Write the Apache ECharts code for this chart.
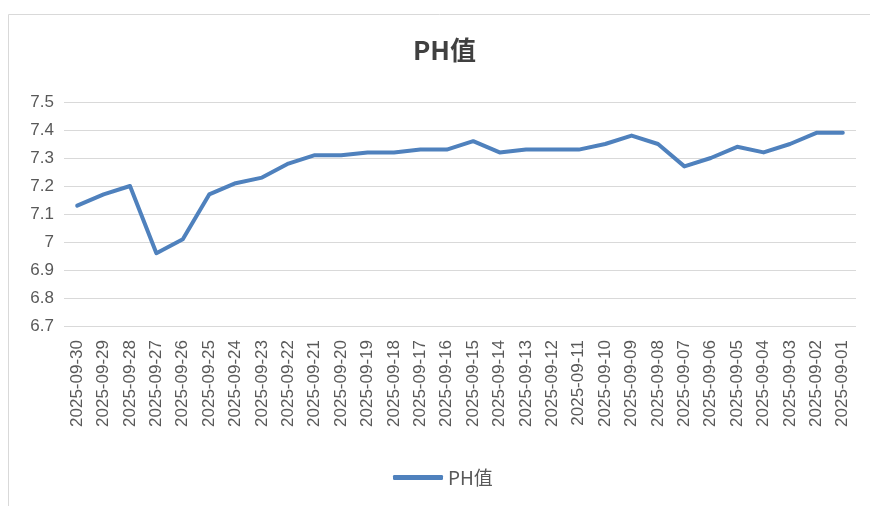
<!DOCTYPE html>
<html>
<head>
<meta charset="utf-8">
<script src="https://cdn.jsdelivr.net/npm/echarts@6/dist/echarts.min.js"></script>
<style>
  html, body { margin: 0; padding: 0; background: #fff; }
  #chart { width: 870px; height: 506px; }
</style>
</head>
<body>
<div id="chart"></div>
<script>
// dates, newest first as in the source sheet
const dates = [
  '2025-09-30', '2025-09-29', '2025-09-28', '2025-09-27', '2025-09-26',
  '2025-09-25', '2025-09-24', '2025-09-23', '2025-09-22', '2025-09-21',
  '2025-09-20', '2025-09-19', '2025-09-18', '2025-09-17', '2025-09-16',
  '2025-09-15', '2025-09-14', '2025-09-13', '2025-09-12', '2025-09-11',
  '2025-09-10', '2025-09-09', '2025-09-08', '2025-09-07', '2025-09-06',
  '2025-09-05', '2025-09-04', '2025-09-03', '2025-09-02', '2025-09-01'
]
const phValues = [
  7.13, 7.17, 7.20, 6.96, 7.01,
  7.17, 7.21, 7.23, 7.28, 7.31,
  7.31, 7.32, 7.32, 7.33, 7.33,
  7.36, 7.32, 7.33, 7.33, 7.33,
  7.35, 7.38, 7.35, 7.27, 7.30,
  7.34, 7.32, 7.35, 7.39, 7.39
]
const yMin = 6.7
const yMax = 7.5
const yStep = 0.1

const lineColor = '#4f81bd'
const textColor = '#595959'

const chart = echarts.init(document.getElementById('chart'))

chart.setOption({
  animation: false,
  graphic: [{
    type: 'rect',
    shape: { x: 8.5, y: 14.5, width: 880, height: 500 },
    style: { fill: 'none', stroke: '#d9d9d9', lineWidth: 1 },
    silent: true
  }],
  title: {
    text: 'PH值',
    left: 408,
    top: 32,
    textStyle: {
      fontFamily: 'Noto Sans CJK SC',
      fontSize: 26,
      fontWeight: 'bold',
      color: '#404040'
    }
  },
  legend: {
    data: ['PH值'],
    bottom: 14,
    left: 388,
    itemWidth: 50,
    itemHeight: 5,
    itemGap: 6,
    icon: 'roundRect',
    textStyle: {
      fontFamily: 'Noto Sans CJK SC',
      fontSize: 19,
      color: textColor
    }
  },
  grid: {
    left: 64,
    right: 14,
    top: 102,
    bottom: 180
  },
  xAxis: {
    type: 'category',
    data: dates,
    boundaryGap: true,
    axisLine: { show: false },
    axisTick: { show: false },
    axisLabel: {
      interval: 0,
      rotate: 90,
      margin: 14,
      fontFamily: 'Liberation Sans',
      fontSize: 17,
      color: textColor
    }
  },
  yAxis: {
    type: 'value',
    min: yMin,
    max: yMax,
    interval: yStep,
    axisLine: { show: false },
    axisTick: { show: false },
    axisLabel: {
      margin: 10,
      fontFamily: 'Liberation Sans',
      fontSize: 17,
      color: textColor,
      formatter: v => String(Math.round(v * 10) / 10)
    },
    splitLine: { lineStyle: { color: '#d9d9d9', width: 1 } }
  },
  series: [{
    name: 'PH值',
    type: 'line',
    data: phValues,
    symbol: 'none',
    lineStyle: { color: lineColor, width: 4, cap: 'round', join: 'round' },
    itemStyle: { color: lineColor }
  }]
})
</script>
</body>
</html>
